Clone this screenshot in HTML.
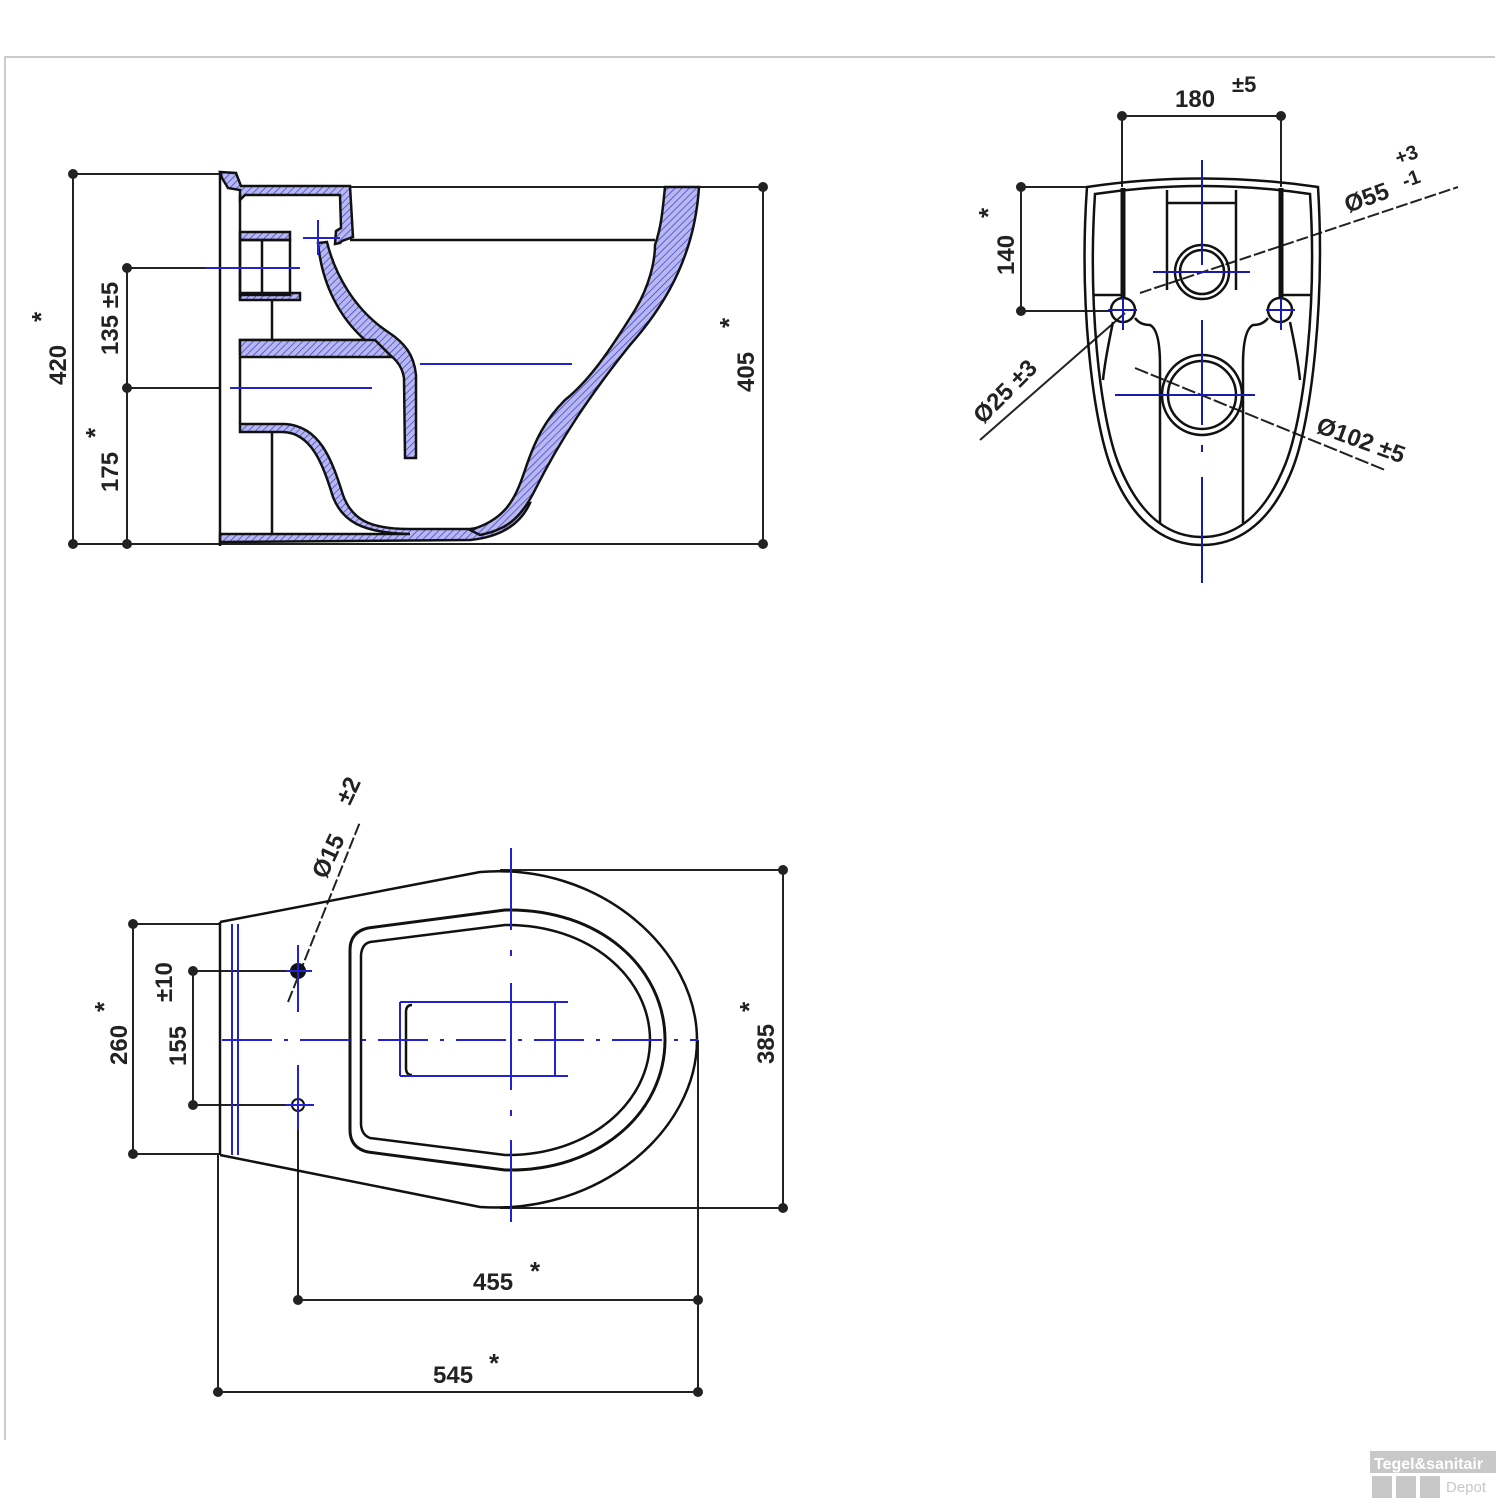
<!DOCTYPE html>
<html><head><meta charset="utf-8"><style>
html,body{margin:0;padding:0;background:#fff}
svg{display:block}
text{font-family:"Liberation Sans",sans-serif;font-weight:bold;fill:#222}
</style></head><body>
<svg width="1500" height="1500" viewBox="0 0 1500 1500" xmlns="http://www.w3.org/2000/svg">
<defs>
<pattern id="h" width="5" height="5" patternUnits="userSpaceOnUse" patternTransform="rotate(45)">
<rect width="5" height="5" fill="#b8b8f0"/><line x1="0" y1="0" x2="0" y2="5" stroke="#4040d0" stroke-width="1.5"/></pattern>
</defs>
<!-- frame -->
<path d="M5,1440 V57 H1495" fill="none" stroke="#ccc" stroke-width="2"/>

<!-- ===== SIDE VIEW ===== -->
<g stroke="#222" stroke-width="2" fill="none">
<line x1="73" y1="174" x2="73" y2="544"/>
<line x1="73" y1="174" x2="220" y2="174"/>
<line x1="73" y1="544" x2="763" y2="544"/>
<line x1="127" y1="268" x2="127" y2="544"/>
<line x1="127" y1="268" x2="205" y2="268"/>
<line x1="127" y1="388" x2="220" y2="388"/>
<line x1="763" y1="187" x2="763" y2="544"/>
<line x1="350" y1="187" x2="763" y2="187"/>
</g>
<g fill="#222"><circle cx="73" cy="174" r="5"/><circle cx="73" cy="544" r="5"/><circle cx="127" cy="268" r="5"/><circle cx="127" cy="388" r="5"/><circle cx="127" cy="544" r="5"/><circle cx="763" cy="187" r="5"/><circle cx="763" cy="544" r="5"/></g>
<text transform="translate(66,385) rotate(-90)" font-size="24">420</text>
<text transform="translate(50,322) rotate(-90)" font-size="26">*</text>
<text transform="translate(118,355) rotate(-90)" font-size="24">135 ±5</text>
<text transform="translate(118,492) rotate(-90)" font-size="24">175</text>
<text transform="translate(104,438) rotate(-90)" font-size="26">*</text>
<text transform="translate(754,392) rotate(-90)" font-size="24">405</text>
<text transform="translate(738,328) rotate(-90)" font-size="26">*</text>

<!-- body -->
<g stroke="#111" stroke-width="2.5" fill="url(#h)">
<path d="M220,172 L236,173 L241,186 L350,186 L353,237 L342,241 L340,243 L335,244 L336,231 L341,228 L340,195 L245,195 L240,200 L240,190 L228,188 L222,178 Z"/>
<path d="M318,243 L327,242 C335,275 355,310 388,332 C405,343 414,355 416,375 L416,458 L405,458 L404,378 C402,365 395,357 378,347 L240,347 L240,355 L240,340 L365,340 C340,318 322,285 318,243 Z"/>
<path d="M240,340 L375,340 L392,357 L240,357 Z"/>
<path d="M240,232 L290,232 L290,240 L240,240 Z"/>
<path d="M240,293 L300,293 L300,300 L240,300 Z"/>
<path d="M240,424 L285,424 C320,426 332,460 343,495 C352,520 370,529 410,529 L470,529 C495,526 510,518 520,503 L530,503 C520,525 500,537 470,540 L220,542 L220,534 L410,534 C360,533 342,520 333,497 C323,465 312,433 283,432 L240,432 Z"/>
<path d="M665,187 L699,187 C695,250 670,300 630,345 C590,395 560,440 535,490 C520,520 505,530 480,535 L470,530 C505,520 515,500 525,470 C535,440 545,420 565,400 C590,380 610,350 635,310 C650,285 655,260 655,245 C662,225 663,205 665,187 Z"/>
</g>
<g stroke="#111" stroke-width="2.5" fill="none">
<line x1="220" y1="172" x2="220" y2="546"/>
<line x1="350" y1="240" x2="655" y2="240"/>
<line x1="240" y1="195" x2="240" y2="300"/>
<rect x="240" y="240" width="50" height="55"/>
<line x1="262" y1="240" x2="262" y2="295"/>
<line x1="272" y1="300" x2="272" y2="340"/>
<line x1="240" y1="357" x2="240" y2="424"/>
<line x1="272" y1="432" x2="272" y2="534"/>
</g>
<g stroke="#2222d0" stroke-width="2">
<line x1="205" y1="268" x2="300" y2="268"/>
<line x1="230" y1="388" x2="372" y2="388"/>
<line x1="420" y1="364" x2="572" y2="364"/>
<line x1="303" y1="238" x2="340" y2="238"/>
<line x1="318" y1="220" x2="318" y2="255"/>
</g>

<!-- ===== TOP RIGHT VIEW ===== -->
<g stroke="#222" stroke-width="2" fill="none">
<line x1="1122" y1="116" x2="1281" y2="116"/>
<line x1="1122" y1="116" x2="1122" y2="187"/>
<line x1="1281" y1="116" x2="1281" y2="187"/>
<line x1="1021" y1="187" x2="1021" y2="311"/>
<line x1="1021" y1="187" x2="1090" y2="187"/>
<line x1="1021" y1="311" x2="1110" y2="311"/>
<line x1="1140" y1="293" x2="1458" y2="187" stroke-dasharray="12,3"/>
<line x1="1125" y1="313" x2="980" y2="440"/>
<line x1="1135" y1="368" x2="1385" y2="470" stroke-dasharray="14,3"/>
</g>
<g fill="#222"><circle cx="1122" cy="116" r="5"/><circle cx="1281" cy="116" r="5"/><circle cx="1021" cy="187" r="5"/><circle cx="1021" cy="311" r="5"/></g>
<text x="1175" y="107" font-size="24">180</text>
<text x="1232" y="92" font-size="22">±5</text>
<text transform="translate(1014,275) rotate(-90)" font-size="24">140</text>
<text transform="translate(997,218) rotate(-90)" font-size="26">*</text>
<text transform="translate(1348,213) rotate(-20)" font-size="24">Ø55</text>
<text transform="translate(1398,165) rotate(-20)" font-size="20">+3</text>
<text transform="translate(1405,188) rotate(-20)" font-size="20">-1</text>
<text transform="translate(983,425) rotate(-45)" font-size="24">Ø25 ±3</text>
<text transform="translate(1315,432) rotate(20)" font-size="24">Ø102 ±5</text>

<g stroke="#111" stroke-width="2.5" fill="none">
<path d="M1087,187 Q1202,170 1318,187 C1325,300 1312,420 1292,470 C1268,530 1232,545 1202,545 C1172,545 1136,530 1112,470 C1092,420 1079,300 1087,187 Z"/>
<path d="M1095,194 Q1202,178 1310,194 C1317,300 1305,415 1285,465 C1262,522 1230,537 1202,537 C1174,537 1142,522 1119,465 C1099,415 1088,300 1095,194 Z"/>
<line x1="1123" y1="188" x2="1123" y2="297" stroke-width="5"/>
<line x1="1281" y1="188" x2="1281" y2="297" stroke-width="5"/>
<line x1="1093" y1="295" x2="1123" y2="295"/>
<line x1="1281" y1="295" x2="1311" y2="295"/>
<path d="M1167,190 V290 M1236,190 V290 M1167,203 H1236"/>
<circle cx="1202" cy="272" r="22"/><circle cx="1202" cy="272" r="27"/>
<circle cx="1123" cy="310" r="12"/><circle cx="1280" cy="310" r="12"/>
<circle cx="1202" cy="395" r="34"/><circle cx="1202" cy="395" r="40"/>
<path d="M1160,365 V523 M1243,365 V523"/>
<path d="M1135,318 Q1140,325 1150,325 Q1160,330 1160,365 M1268,318 Q1263,325 1253,325 Q1243,330 1243,365"/>
<path d="M1113,322 Q1105,360 1103,380 M1290,322 Q1298,360 1300,380"/>
</g>
<g stroke="#1a1ab0" stroke-width="2">
<line x1="1202" y1="160" x2="1202" y2="265"/>
<line x1="1202" y1="320" x2="1202" y2="425"/>
<line x1="1202" y1="445" x2="1202" y2="452"/>
<line x1="1202" y1="477" x2="1202" y2="583"/>
<line x1="1153" y1="272" x2="1250" y2="272"/>
<line x1="1115" y1="395" x2="1255" y2="395"/>
<line x1="1108" y1="310" x2="1137" y2="310"/><line x1="1123" y1="298" x2="1123" y2="330"/>
<line x1="1266" y1="310" x2="1295" y2="310"/><line x1="1281" y1="298" x2="1281" y2="330"/>
</g>

<!-- ===== BOTTOM VIEW ===== -->
<g stroke="#222" stroke-width="2" fill="none">
<line x1="133" y1="924" x2="133" y2="1154"/>
<line x1="133" y1="924" x2="220" y2="924"/>
<line x1="133" y1="1154" x2="220" y2="1154"/>
<line x1="193" y1="971" x2="193" y2="1105"/>
<line x1="193" y1="971" x2="298" y2="971"/>
<line x1="193" y1="1105" x2="298" y2="1105"/>
<line x1="500" y1="870" x2="783" y2="870"/>
<line x1="500" y1="1208" x2="783" y2="1208"/>
<line x1="783" y1="870" x2="783" y2="1208"/>
<line x1="298" y1="1110" x2="298" y2="1300"/>
<line x1="698" y1="1040" x2="698" y2="1392"/>
<line x1="218" y1="1155" x2="218" y2="1392"/>
<line x1="298" y1="1300" x2="698" y2="1300"/>
<line x1="218" y1="1392" x2="698" y2="1392"/>
<line x1="288" y1="1002" x2="360" y2="822" stroke-dasharray="12,3"/>
</g>
<g fill="#222"><circle cx="133" cy="924" r="5"/><circle cx="133" cy="1154" r="5"/><circle cx="193" cy="971" r="5"/><circle cx="193" cy="1105" r="5"/><circle cx="783" cy="870" r="5"/><circle cx="783" cy="1208" r="5"/><circle cx="298" cy="1300" r="5"/><circle cx="698" cy="1300" r="5"/><circle cx="218" cy="1392" r="5"/><circle cx="698" cy="1392" r="5"/></g>
<text transform="translate(127,1065) rotate(-90)" font-size="24">260</text>
<text transform="translate(113,1012) rotate(-90)" font-size="26">*</text>
<text transform="translate(186,1066) rotate(-90)" font-size="24">155</text>
<text transform="translate(172,1002) rotate(-90)" font-size="24">±10</text>
<text transform="translate(774,1064) rotate(-90)" font-size="24">385</text>
<text transform="translate(758,1012) rotate(-90)" font-size="26">*</text>
<text transform="translate(326,880) rotate(-65)" font-size="24">Ø15</text>
<text transform="translate(350,806) rotate(-65)" font-size="24">±2</text>
<text x="473" y="1290" font-size="24">455</text><text x="530" y="1280" font-size="26">*</text>
<text x="433" y="1383" font-size="24">545</text><text x="489" y="1372" font-size="26">*</text>

<g stroke="#111" stroke-width="2.5" fill="none">
<line x1="220" y1="922" x2="220" y2="1155"/>
<path d="M220,922 L480,872 C600,862 697,950 697,1040 C697,1130 600,1215 480,1207 L220,1155"/>
<path d="M368,928 L505,910 C600,908 665,968 665,1040 C665,1112 600,1172 505,1170 L368,1152 Q350,1148 350,1130 L350,950 Q350,932 368,928 Z" stroke-width="3"/>
<path d="M370,942 L505,925 C590,924 650,978 650,1040 C650,1102 590,1156 505,1155 L370,1138 Q362,1135 361,1125 L361,955 Q362,944 370,942 Z"/>
<path d="M412,1005 Q406,1005 406,1012 V1068 Q406,1075 412,1075"/>
</g>
<circle cx="298" cy="971" r="8" fill="#111"/>
<circle cx="298" cy="1105" r="6" fill="none" stroke="#111" stroke-width="2"/>
<g stroke="#2222d0" stroke-width="2" fill="none">
<line x1="232" y1="924" x2="232" y2="1155"/><line x1="238" y1="924" x2="238" y2="1155"/>
<line x1="222" y1="1040" x2="698" y2="1040" stroke-dasharray="50,12,4,12"/>
<line x1="511" y1="848" x2="511" y2="930"/>
<line x1="511" y1="950" x2="511" y2="956"/>
<line x1="511" y1="983" x2="511" y2="1090"/>
<line x1="511" y1="1110" x2="511" y2="1116"/>
<line x1="511" y1="1140" x2="511" y2="1222"/>
<path d="M400,1002 H568 M400,1076 H568 M400,1002 V1076 M555,1002 V1076"/>
<line x1="298" y1="945" x2="298" y2="1012"/>
<line x1="298" y1="1065" x2="298" y2="1130"/>
<line x1="286" y1="971" x2="312" y2="971"/>
<line x1="286" y1="1105" x2="314" y2="1105"/>
</g>

<!-- logo -->
<rect x="1370" y="1451" width="126" height="22" fill="#c8c8c8"/>
<text x="1374" y="1469" font-size="16" style="fill:#fff">Tegel&amp;sanitair</text>
<rect x="1372" y="1476" width="20" height="22" fill="#c8c8c8"/>
<rect x="1396" y="1476" width="20" height="22" fill="#c8c8c8"/>
<rect x="1420" y="1476" width="20" height="22" fill="#c8c8c8"/>
<text x="1446" y="1492" font-size="15" style="fill:#c8c8c8;font-weight:normal">Depot</text>
</svg>
</body></html>
